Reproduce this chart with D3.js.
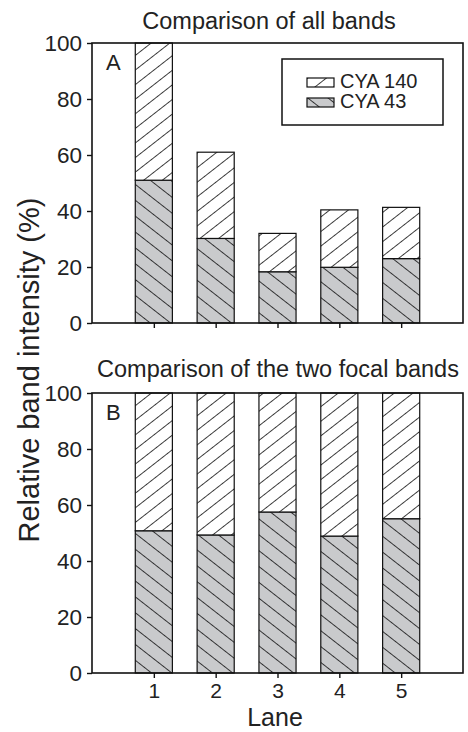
<!DOCTYPE html>
<html>
<head>
<meta charset="utf-8">
<script src="https://cdn.jsdelivr.net/npm/d3@7"></script>
<style>
  body { margin: 0; background: #fff; }
  svg text { font-family: "Liberation Sans", Arial, Helvetica, sans-serif; fill: #222; }
</style>
</head>
<body>
<div id="chart"></div>
<script>
// lanes and the two bands, values in %
var lanes = [1, 2, 3, 4, 5];
var yTicks = [0, 20, 40, 60, 80, 100];
var seriesNames = ["CYA 140", "CYA 43"];

// panel A: all bands, normalised to lane 1
var allCya43 = [51, 30.2, 18.3, 19.9, 23];
var allCya140 = [49, 30.8, 13.7, 20.5, 18.3];

// panel B: two focal bands only
var focalCya43 = [50.8, 49.3, 57.5, 48.9, 55.1];
var focalCya140 = [49.2, 50.7, 42.5, 51.1, 44.9];

var panelTitles = ["Comparison of all bands", "Comparison of the two focal bands"];
var panelLetters = ["A", "B"];

var width = 468,
    height = 732,
    left = 92,
    right = 463,
    panelH = 280,
    tops = [43, 393],
    grey = "#c9cacc";

var svg = d3.select("#chart").append("svg")
  .attr("width", width)
  .attr("height", height);

var defs = svg.append("defs");

function hatch(id, angle, spacing, bg) {
  var p = defs.append("pattern")
    .attr("id", id)
    .attr("patternUnits", "userSpaceOnUse")
    .attr("width", spacing)
    .attr("height", spacing)
    .attr("patternTransform", "rotate(" + angle + ")");
  p.append("rect")
    .attr("width", spacing)
    .attr("height", spacing)
    .attr("fill", bg);
  p.append("line")
    .attr("x1", 0).attr("y1", 0)
    .attr("x2", 0).attr("y2", spacing)
    .attr("stroke", "#111")
    .attr("stroke-width", 1.6);
}
hatch("hatchUp", 52, 11.5, "#fff");
hatch("hatchDown", -52, 12.5, grey);

var x = d3.scaleLinear()
  .domain([0, 6])
  .range([left, right]);

var barW = x(0.6) - x(0);

function drawPanel(i, lower, upper) {
  var top = tops[i],
      bottom = top + panelH;

  var y = d3.scaleLinear()
    .domain([0, 100])
    .range([bottom, top]);

  var g = svg.append("g");

  // lower band (grey)
  g.selectAll(".low")
    .data(lanes)
    .enter().append("rect")
    .attr("x", function(d) { return x(d) - barW / 2; })
    .attr("y", function(d, j) { return y(lower[j]); })
    .attr("width", barW)
    .attr("height", function(d, j) { return y(0) - y(lower[j]); })
    .attr("fill", "url(#hatchDown)")
    .attr("stroke", "#111")
    .attr("stroke-width", 1.2);

  // upper band (white)
  g.selectAll(".up")
    .data(lanes)
    .enter().append("rect")
    .attr("x", function(d) { return x(d) - barW / 2; })
    .attr("y", function(d, j) { return y(lower[j] + upper[j]); })
    .attr("width", barW)
    .attr("height", function(d, j) { return y(lower[j]) - y(lower[j] + upper[j]); })
    .attr("fill", "url(#hatchUp)")
    .attr("stroke", "#111")
    .attr("stroke-width", 1.2);

  // frame
  g.append("rect")
    .attr("x", left)
    .attr("y", top)
    .attr("width", right - left)
    .attr("height", panelH)
    .attr("fill", "none")
    .attr("stroke", "#111")
    .attr("stroke-width", 1.6);

  var yAxis = g.append("g")
    .attr("transform", "translate(" + left + ",0)")
    .call(d3.axisLeft(y).tickValues(yTicks).tickSize(5).tickPadding(5));
  yAxis.select(".domain").remove();
  yAxis.selectAll("line").attr("stroke", "#111").attr("stroke-width", 1.4);
  yAxis.selectAll("text").attr("font-size", 22.5).attr("fill", "#222");

  var xAxis = g.append("g")
    .attr("transform", "translate(0," + bottom + ")")
    .call(d3.axisBottom(x).tickValues(lanes).tickSize(5).tickPadding(5)
      .tickFormat(i === 1 ? d3.format("d") : function() { return ""; }));
  xAxis.select(".domain").remove();
  xAxis.selectAll("line").attr("stroke", "#111").attr("stroke-width", 1.4);
  xAxis.selectAll("text").attr("font-size", 21).attr("fill", "#222");

  g.append("text")
    .attr("x", left + 14)
    .attr("y", top + 27)
    .attr("font-size", 22)
    .text(panelLetters[i]);

  g.append("text")
    .attr("x", i === 0 ? 269 : 278)
    .attr("y", top - 14 - (i === 0 ? 0 : 2))
    .attr("text-anchor", "middle")
    .attr("font-size", 23.5)
    .text(panelTitles[i]);
}

drawPanel(0, allCya43, allCya140);
drawPanel(1, focalCya43, focalCya140);

// legend in panel A
var legend = svg.append("g");
legend.append("rect")
  .attr("x", 282).attr("y", 59)
  .attr("width", 161).attr("height", 66)
  .attr("fill", "#fff")
  .attr("stroke", "#111")
  .attr("stroke-width", 1.5);

var legItems = legend.selectAll(".item")
  .data(seriesNames)
  .enter().append("g")
  .attr("transform", function(d, j) { return "translate(307," + (78 + j * 20) + ")"; });
legItems.append("rect")
  .attr("width", 27)
  .attr("height", 9)
  .attr("fill", function(d, j) { return j === 0 ? "url(#hatchUp)" : "url(#hatchDown)"; })
  .attr("stroke", "#111")
  .attr("stroke-width", 1.2);
legItems.append("text")
  .attr("x", 33)
  .attr("y", 10)
  .attr("font-size", 20)
  .text(function(d) { return d; });

// axis titles
svg.append("text")
  .attr("transform", "translate(39,370) rotate(-90)")
  .attr("text-anchor", "middle")
  .attr("font-size", 29)
  .text("Relative band intensity (%)");

svg.append("text")
  .attr("x", 275)
  .attr("y", 726)
  .attr("text-anchor", "middle")
  .attr("font-size", 25)
  .text("Lane");
</script>
</body>
</html>
